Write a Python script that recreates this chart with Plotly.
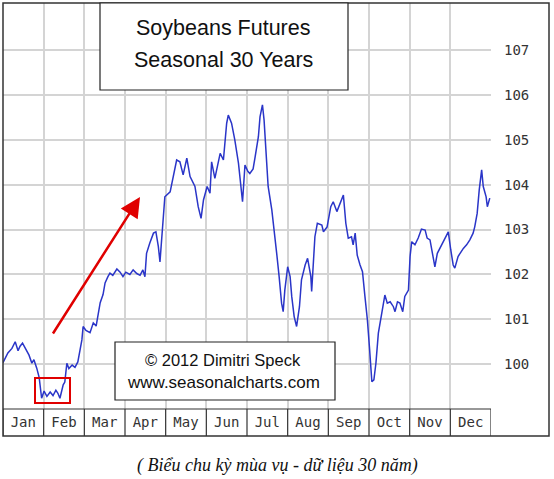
import plotly.graph_objects as go

# seasonal pattern, x in months from 1 Jan (0 = start of Jan, 12 = end of Dec)
month_pos = [0.00, 0.12, 0.22, 0.30, 0.37, 0.42, 0.48, 0.57, 0.64, 0.71,
             0.76, 0.83, 0.89, 0.95, 1.01, 1.08, 1.16, 1.23, 1.30, 1.35,
             1.40, 1.48, 1.52, 1.57, 1.62, 1.70, 1.77, 1.84, 1.94, 1.97,
             2.04, 2.14, 2.22, 2.29, 2.34, 2.39, 2.46, 2.51, 2.58, 2.63,
             2.70, 2.80, 2.88, 2.95, 3.02, 3.12, 3.20, 3.29, 3.37, 3.44,
             3.49, 3.53, 3.61, 3.70, 3.76, 3.82, 3.86, 3.93, 3.98, 4.11,
             4.19, 4.27, 4.35, 4.43, 4.52, 4.60, 4.72, 4.80, 4.87, 4.93,
             5.02, 5.09, 5.13, 5.21, 5.34, 5.42, 5.50, 5.54, 5.62, 5.70,
             5.79, 5.84, 5.89, 5.95, 6.02, 6.07, 6.15, 6.20, 6.24, 6.28,
             6.32, 6.38, 6.42, 6.48, 6.52, 6.61, 6.67, 6.73, 6.79, 6.85,
             6.89, 6.93, 7.00, 7.06, 7.10, 7.16, 7.22, 7.29, 7.34, 7.43,
             7.49, 7.53, 7.57, 7.59, 7.63, 7.67, 7.73, 7.84, 7.88, 7.97,
             8.06, 8.12, 8.21, 8.29, 8.37, 8.43, 8.49, 8.57, 8.61, 8.66,
             8.71, 8.78, 8.84, 8.90, 8.96, 9.01, 9.07, 9.12, 9.17, 9.23,
             9.29, 9.35, 9.39, 9.45, 9.52, 9.60, 9.64, 9.70, 9.76, 9.83,
             9.88, 9.97, 10.01, 10.05, 10.13, 10.21, 10.29, 10.38, 10.43, 10.50,
             10.54, 10.62, 10.68, 10.79, 10.87, 10.95, 11.01, 11.07, 11.11, 11.19,
             11.32, 11.40, 11.48, 11.56, 11.60, 11.66, 11.71, 11.77, 11.81, 11.88,
             11.91, 11.97]

price = [100.03, 100.25, 100.35, 100.50, 100.30, 100.40, 100.47, 100.30, 100.20, 100.02,
         100.10, 99.91, 99.70, 99.24, 99.40, 99.28, 99.38, 99.30, 99.42, 99.35,
         99.24, 99.54, 99.60, 100.02, 99.90, 99.98, 99.93, 100.05, 100.54, 100.84,
         100.75, 100.70, 100.92, 100.85, 101.14, 101.37, 101.55, 101.81, 101.95, 102.03,
         101.98, 102.12, 102.05, 101.95, 102.05, 102.00, 102.10, 102.02, 101.98, 102.10,
         101.95, 102.47, 102.70, 102.92, 102.95, 102.62, 102.28, 103.06, 103.73, 103.84,
         104.18, 104.55, 104.51, 104.22, 104.59, 104.18, 103.96, 103.51, 103.25, 103.66,
         103.96, 103.81, 104.51, 104.14, 104.70, 104.55, 105.37, 105.55, 105.37, 105.00,
         104.48, 103.96, 103.62, 104.44, 104.30, 104.25, 104.35, 104.62, 104.85, 105.07,
         105.51, 105.78, 105.44, 104.48, 103.96, 103.44, 102.99, 102.47, 101.95, 101.36,
         101.17, 101.65, 102.17, 101.95, 101.51, 101.06, 100.84, 101.28, 101.88, 102.21,
         102.36, 102.10, 101.95, 101.62, 102.40, 102.84, 103.14, 103.10, 102.95, 103.06,
         103.51, 103.62, 103.40, 103.59, 103.77, 103.14, 102.81, 102.84, 102.66, 102.92,
         102.43, 102.21, 102.06, 101.51, 100.99, 100.39, 99.61, 99.65, 100.02, 100.69,
         100.99, 101.28, 101.54, 101.36, 101.39, 101.28, 101.17, 101.39, 101.36, 101.17,
         101.51, 101.65, 102.40, 102.73, 102.66, 102.81, 103.01, 102.99, 102.81, 102.77,
         102.55, 102.17, 102.47, 102.66, 102.81, 102.95, 102.55, 102.21, 102.14, 102.40,
         102.58, 102.66, 102.77, 102.92, 103.06, 103.36, 103.88, 104.33, 103.96, 103.73,
         103.51, 103.70]

months = ["Jan", "Feb", "Mar", "Apr", "May", "Jun",
          "Jul", "Aug", "Sep", "Oct", "Nov", "Dec"]
y_ticks = [100, 101, 102, 103, 104, 105, 106, 107]

W, H = 554, 479

# helpers: pixel -> paper coords
def px(x):
    return x / W

def py(y):
    return 1 - y / H

fig = go.Figure()
fig.add_trace(go.Scatter(x=month_pos, y=price, mode="lines",
                         line=dict(color="#2a35c8", width=1.5),
                         hoverinfo="skip", showlegend=False))

mono = "DejaVu Sans Mono"
fig.update_xaxes(domain=[px(3), px(491)], range=[0, 12],
                 tickvals=[i + 0.5 for i in range(12)], ticktext=months,
                 showgrid=False, zeroline=False, ticks="", showline=False,
                 ticklabelstandoff=3,
                 tickfont=dict(family=mono, size=14, color="#333"),
                 minor=dict(tickvals=list(range(13)), showgrid=True,
                            gridcolor="#d4d4d4", gridwidth=1.5))
fig.update_yaxes(domain=[py(409), py(3)], range=[99.0, 108.05], side="right",
                 tickvals=y_ticks, showgrid=True, gridcolor="#d4d4d4", gridwidth=1.5,
                 zeroline=False, ticks="", showline=False, ticklabelstandoff=12,
                 tickfont=dict(family=mono, size=14, color="#333"))

shapes = []
# month strip under the chart
shapes.append(dict(type="line", xref="paper", yref="paper", x0=px(3), x1=px(491),
                   y0=py(409), y1=py(409), line=dict(color="#333", width=1.2)))
for i in range(13):
    shapes.append(dict(type="line", xref="x", yref="paper", x0=i, x1=i,
                       y0=py(409), y1=py(436), line=dict(color="#333", width=1.2)))
# outer frame
shapes.append(dict(type="rect", xref="paper", yref="paper", x0=px(3), x1=px(549),
                   y0=py(436), y1=py(3), line=dict(color="#333", width=1.5)))
# title box + copyright box
shapes.append(dict(type="rect", xref="paper", yref="paper", x0=px(100), x1=px(348),
                   y0=py(90), y1=py(3), fillcolor="white", line=dict(color="#222", width=1.2)))
shapes.append(dict(type="rect", xref="paper", yref="paper", x0=px(115), x1=px(335),
                   y0=py(400), y1=py(342), fillcolor="white", line=dict(color="#222", width=1.2)))
# red box around the Feb low
shapes.append(dict(type="rect", xref="paper", yref="paper", x0=px(35), x1=px(70),
                   y0=py(403), y1=py(378), line=dict(color="#e00000", width=2)))

sans = "Liberation Sans, Arial"

def label(text, x, y, size, family=sans):
    return dict(text=text, x=px(x), y=py(y), xref="paper", yref="paper",
                xanchor="center", yanchor="middle", showarrow=False,
                font=dict(family=family, size=size, color="#111"))

annotations = [
    label("Soybeans Futures", 224, 28, 21.5),
    label("Seasonal 30 Years", 224, 60, 21.5),
    label("© 2012 Dimitri Speck", 223, 360, 16.5),
    label("www.seasonalcharts.com", 223, 382, 17),
    label("<i>( Biểu chu kỳ mùa vụ - dữ liệu 30 năm)</i>", 277, 465, 18,
          "Liberation Serif, Times New Roman"),
    # red arrow
    dict(text="", x=px(140), y=py(197), xref="paper", yref="paper",
         ax=52 - 140, ay=335 - 197, showarrow=True, arrowhead=2, arrowsize=1.6,
         arrowwidth=2.5, arrowcolor="#e00000"),
]

fig.update_layout(width=W, height=H, margin=dict(l=0, r=0, t=0, b=0),
                  paper_bgcolor="white", plot_bgcolor="white",
                  shapes=shapes, annotations=annotations, showlegend=False)

# page body has a default margin, drop it so the figure sits at the window corner
fig.write_html("out.html", config={"displayModeBar": False},
               post_script="document.body.style.margin='0';")
